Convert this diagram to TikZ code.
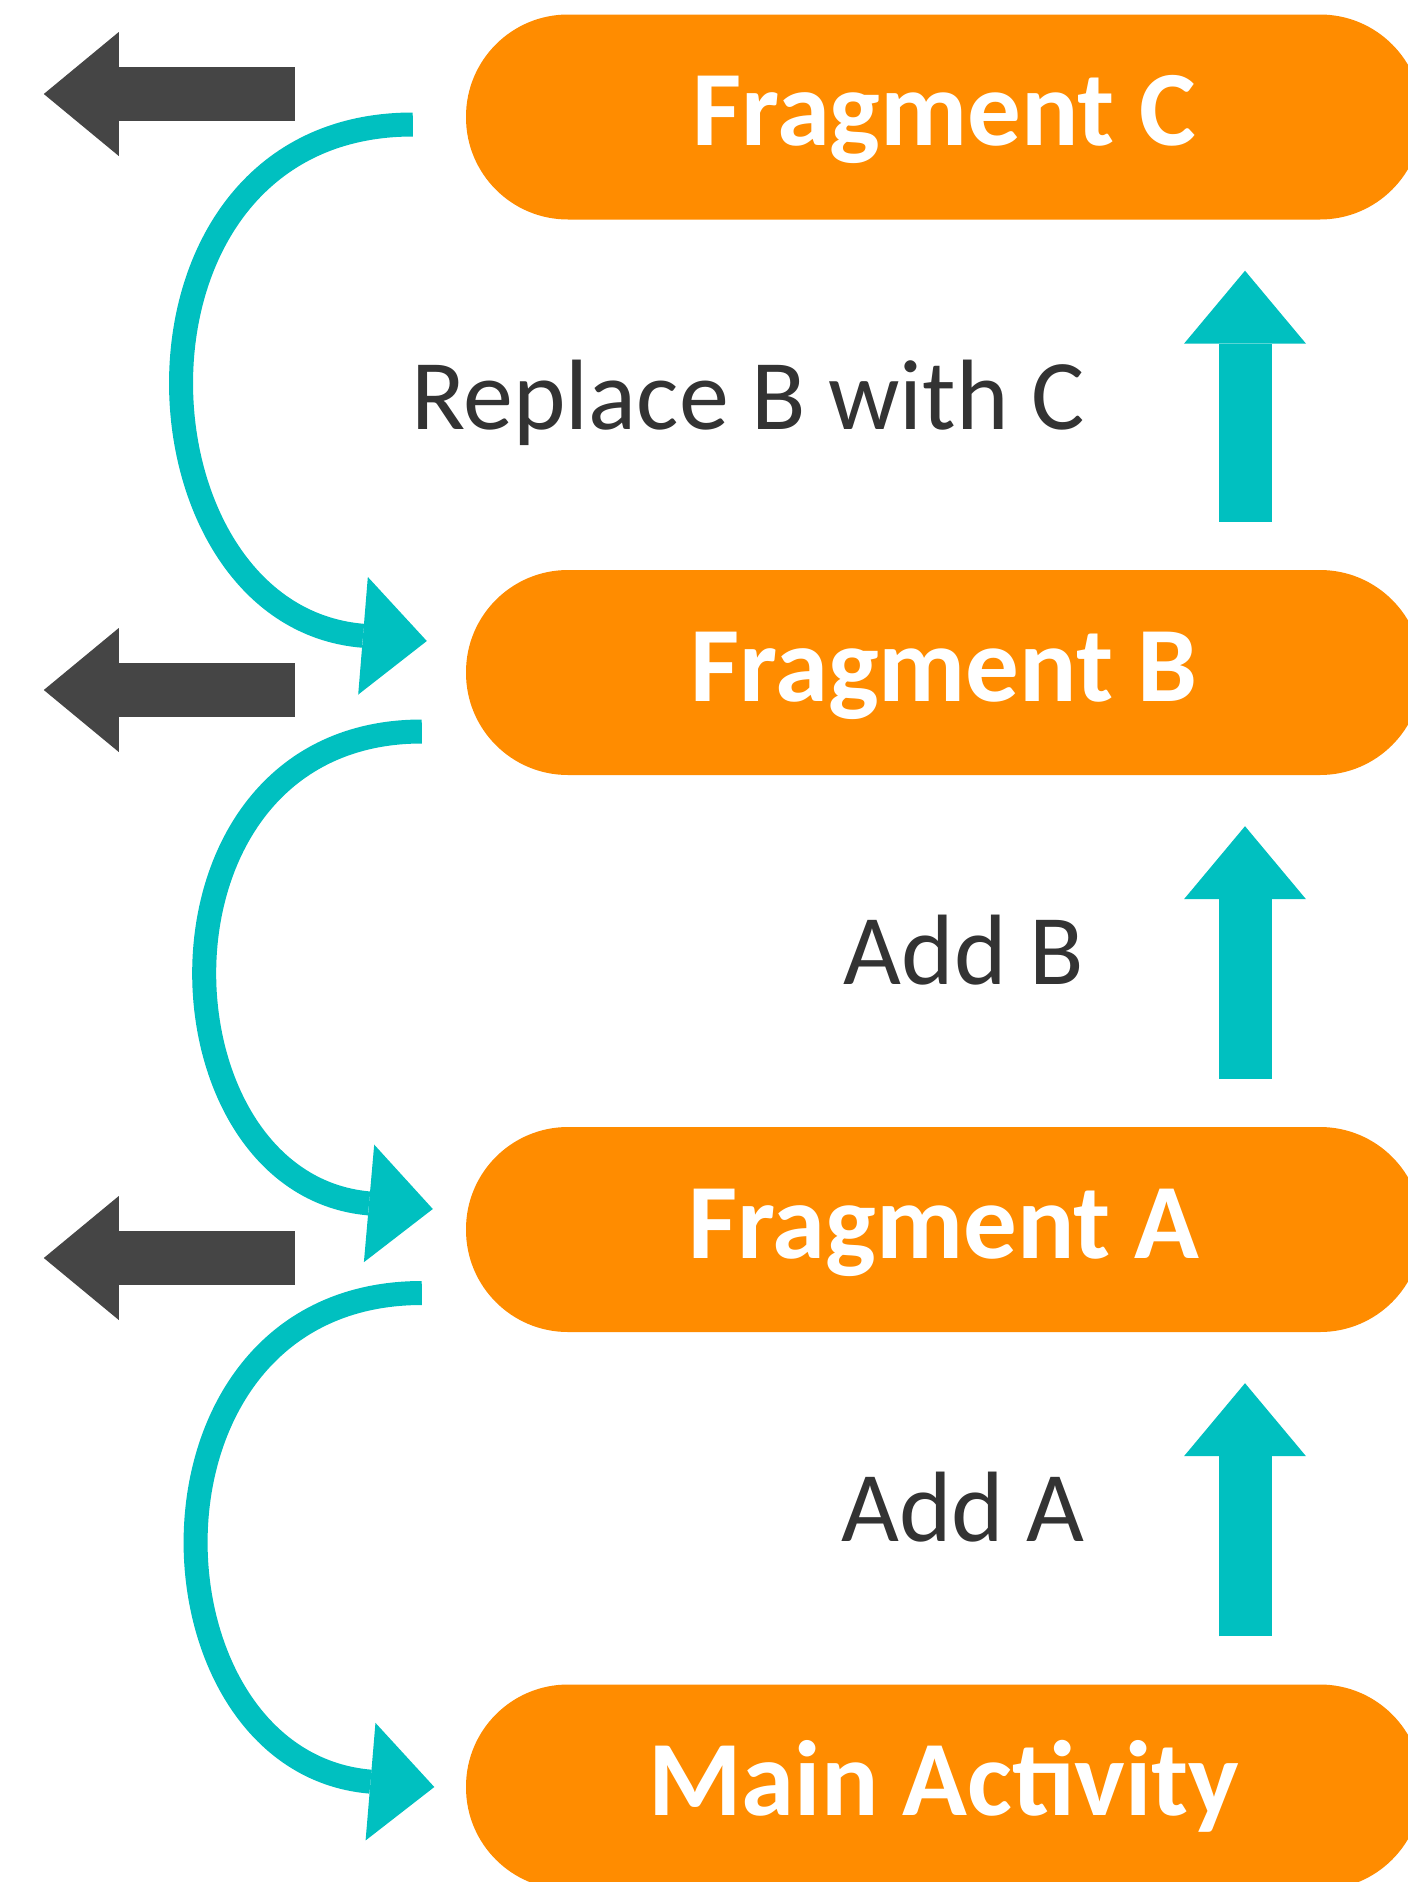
\documentclass[tikz,border=0pt]{standalone}
\usepackage{fontspec}
\setmainfont{Carlito}
\usetikzlibrary{arrows.meta}
\definecolor{pillorange}{HTML}{FF8C00}
\definecolor{tealc}{HTML}{00C0C0}
\definecolor{darkgrey}{HTML}{454545}
\definecolor{labelgrey}{HTML}{333333}
\begin{document}
\begin{tikzpicture}[x=1pt,y=-1pt,
  pill/.style={rectangle, rounded corners=102pt, fill=pillorange, minimum width=956pt, minimum height=205pt, inner sep=0pt, text=white, font=\fontsize{107pt}{110pt}\selectfont\bfseries, text height=57pt, text depth=0pt},
  lbl/.style={anchor=base east, text=labelgrey, font=\fontsize{100pt}{104pt}\selectfont, inner sep=0pt},
  swing/.style={draw=tealc, line width=24pt, -{Triangle[length=64pt,width=118pt,line width=0pt]}},
  push/.style={draw=tealc, line width=53pt, -{Triangle[length=73pt,width=122pt,line width=0pt]}},
  back/.style={draw=darkgrey, line width=54pt, -{Triangle[length=75pt,width=124pt,line width=0pt]}}]
\useasboundingbox (0,0) rectangle (1408,1882);
\clip (0,0) rectangle (1408,1882);
\fill[white] (0,0) rectangle (1408,1882);
% pills
\node[pill] (fc) at (944,117) {Fragment C};
\node[pill] (fb) at (944,672.5) {Fragment B};
\node[pill] (fa) at (944,1229.5) {Fragment A};
\node[pill] (ma) at (944,1787) {Main Activity};
% labels
\node[lbl] (lcb) at (1085,429) {Replace B with C};
\node[lbl] (lab) at (1084,984) {Add B};
\node[lbl] (laa) at (1085,1541) {Add A};
% upward arrows
\draw[push] ([xshift=301pt,yshift=48pt]fb.north) -- ([xshift=301pt,yshift=-51pt]fc.south);
\draw[push] ([xshift=301pt,yshift=48pt]fa.north) -- ([xshift=301pt,yshift=-51pt]fb.south);
\draw[push] ([xshift=301pt,yshift=48pt]ma.north) -- ([xshift=301pt,yshift=-51pt]fa.south);
% back arrows
\draw[back] ([xshift=-171pt,yshift=23pt]fc.west) -- ([xshift=-422pt,yshift=23pt]fc.west);
\draw[back] ([xshift=-171pt,yshift=-17.5pt]fb.west) -- ([xshift=-422pt,yshift=-17.5pt]fb.west);
\draw[back] ([xshift=-171pt,yshift=-28.5pt]fa.west) -- ([xshift=-422pt,yshift=-28.5pt]fa.west);
% curved arrows
\draw[swing] ([xshift=-53pt,yshift=-7.5pt]fc.west) .. controls +(-310,0) and +(-305,-25) .. ([xshift=-39pt,yshift=31.5pt]fb.west);
\draw[swing] ([xshift=-44pt,yshift=-59pt]fb.west) .. controls +(-288,0) and +(-285,-25) .. ([xshift=-33pt,yshift=20.5pt]fa.west);
\draw[swing] ([xshift=-44pt,yshift=-63.5pt]fa.west) .. controls +(-300,0) and +(-298,-25) .. ([xshift=-31.5pt]ma.west);
\end{tikzpicture}
\end{document}
